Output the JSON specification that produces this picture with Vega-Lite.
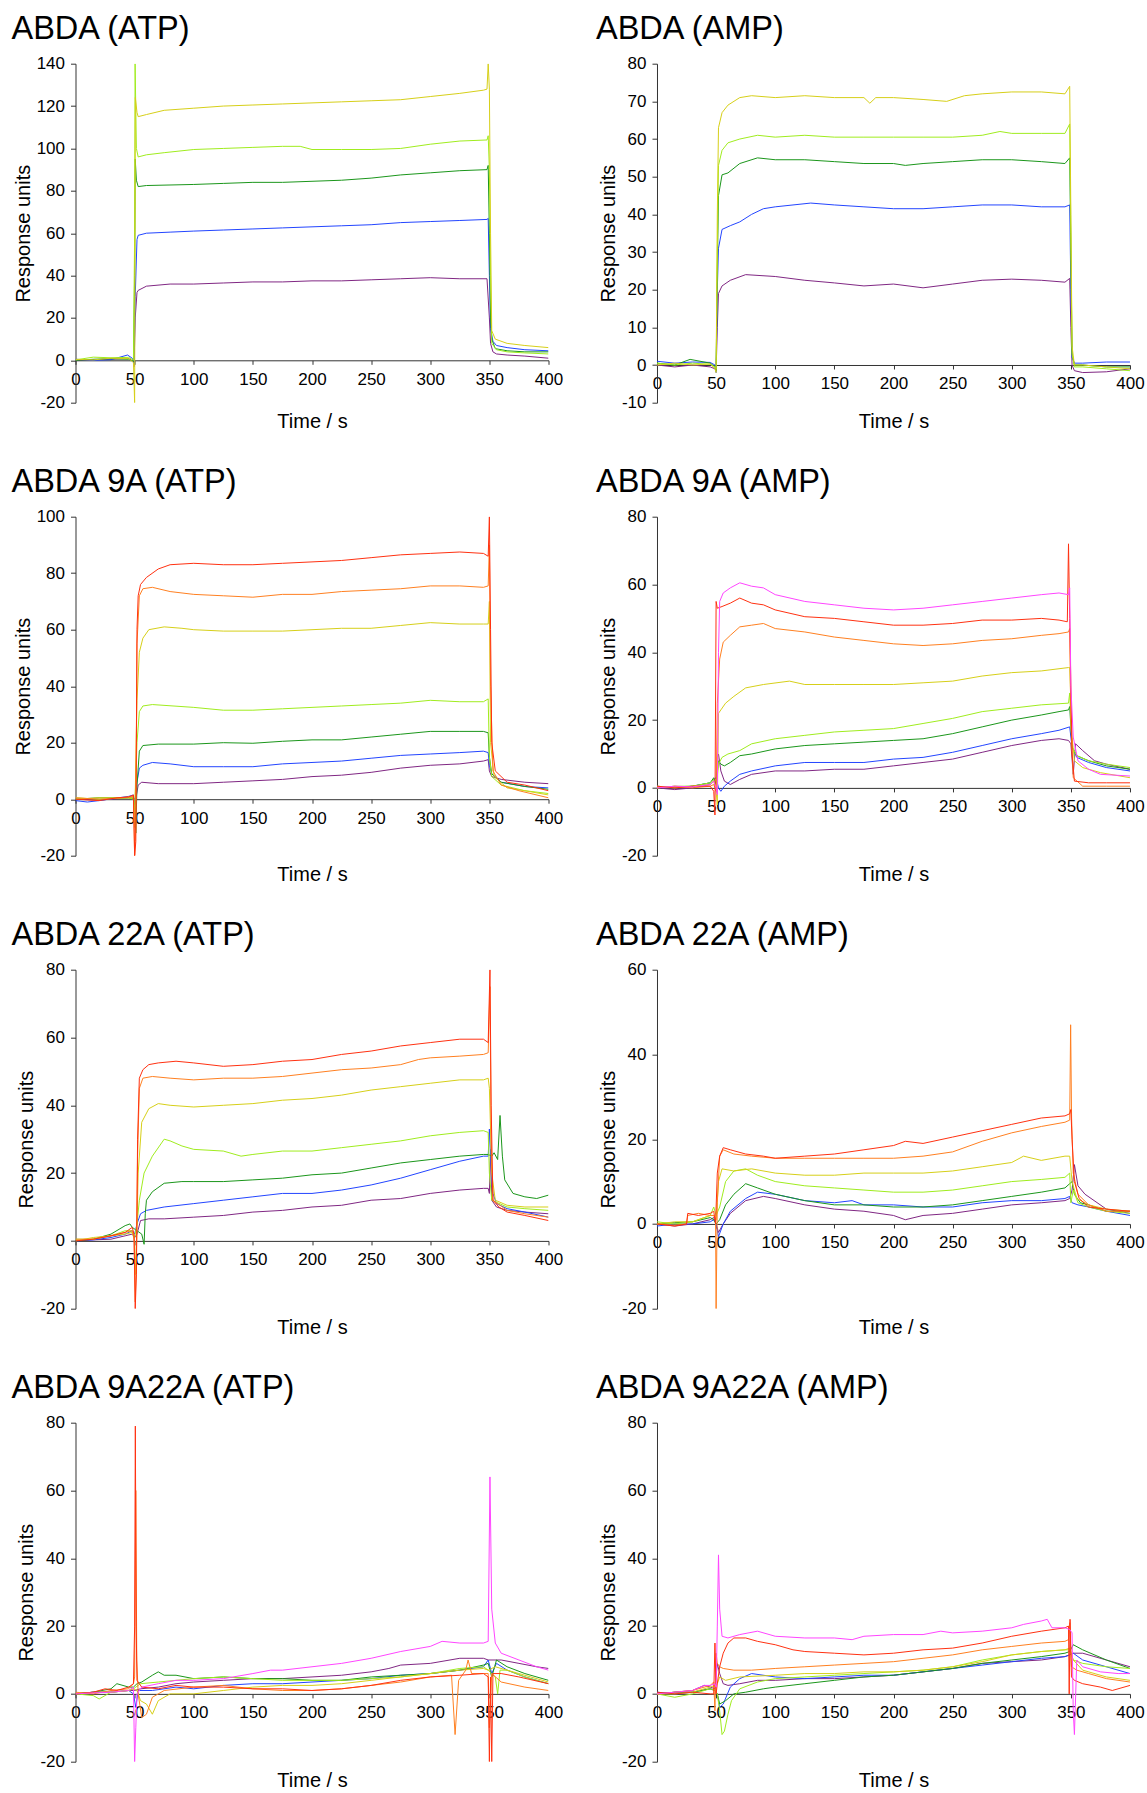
{
"$schema":"https://vega.github.io/schema/vega-lite/v6.json",
"background":"white",
"padding":{"left":11.5,"top":12.7,"right":5,"bottom":0},
"columns":2,
"spacing":{"row":34,"column":32.5},
"config":{
 "font":"Liberation Sans",
 "view":{"stroke":null},
 "title":{"fontSize":32.5,"fontWeight":"normal","anchor":"start","frame":"group","dx":-64,"color":"#000","baseline":"alphabetic","offset":9,"font":"Liberation Sans"},
 "axis":{"labelFont":"Liberation Sans","titleFont":"Liberation Sans","labelFontSize":17,"titleFontSize":20,"titleFontWeight":"normal","labelColor":"#000","titleColor":"#000","domainColor":"#333","tickColor":"#333","grid":false,"labelFlush":false,"labelOverlap":false,"labelExpr":"'' + datum.value"},
 "axisY":{"tickSize":5,"labelPadding":6,"titlePadding":3},
 "axisX":{"tickSize":4,"labelPadding":7,"titleBaseline":"middle"}
},
"datasets":{
"a":[
{"s":1,"t":0,"v":0},{"s":1,"t":15,"v":0.3},{"s":1,"t":30,"v":0.5},{"s":1,"t":45,"v":0.8},{"s":1,"t":49,"v":-0.5},{"s":1,"t":49.5,"v":-3},{"s":1,"t":50.5,"v":20},{"s":1,"t":52,"v":32},{"s":1,"t":53,"v":33},{"s":1,"t":60,"v":35},{"s":1,"t":80,"v":36},{"s":1,"t":100,"v":36},{"s":1,"t":125,"v":36.5},{"s":1,"t":150,"v":37},{"s":1,"t":175,"v":37},{"s":1,"t":200,"v":37.5},{"s":1,"t":225,"v":37.5},{"s":1,"t":250,"v":38},{"s":1,"t":275,"v":38.5},{"s":1,"t":300,"v":39},{"s":1,"t":325,"v":38.5},{"s":1,"t":348,"v":38.5},{"s":1,"t":350,"v":20},{"s":1,"t":351,"v":8},{"s":1,"t":353,"v":4},{"s":1,"t":356,"v":3},{"s":1,"t":365,"v":2.5},{"s":1,"t":380,"v":2},{"s":1,"t":400,"v":1},
{"s":2,"t":0,"v":0.5},{"s":2,"t":15,"v":0},{"s":2,"t":30,"v":0.3},{"s":2,"t":44,"v":2.5},{"s":2,"t":48,"v":1},{"s":2,"t":49.5,"v":-2},{"s":2,"t":50.5,"v":30},{"s":2,"t":52,"v":57},{"s":2,"t":53,"v":59},{"s":2,"t":60,"v":60},{"s":2,"t":80,"v":60.5},{"s":2,"t":100,"v":61},{"s":2,"t":125,"v":61.5},{"s":2,"t":150,"v":62},{"s":2,"t":175,"v":62.5},{"s":2,"t":200,"v":63},{"s":2,"t":225,"v":63.5},{"s":2,"t":250,"v":64},{"s":2,"t":275,"v":65},{"s":2,"t":300,"v":65.5},{"s":2,"t":325,"v":66},{"s":2,"t":348,"v":66.5},{"s":2,"t":349,"v":67},{"s":2,"t":350,"v":40},{"s":2,"t":351,"v":15},{"s":2,"t":353,"v":9},{"s":2,"t":356,"v":7},{"s":2,"t":365,"v":6},{"s":2,"t":380,"v":5},{"s":2,"t":400,"v":4.5},
{"s":3,"t":0,"v":0},{"s":3,"t":15,"v":0.5},{"s":3,"t":30,"v":0.8},{"s":3,"t":45,"v":0.5},{"s":3,"t":49,"v":-0.5},{"s":3,"t":50,"v":40},{"s":3,"t":50.5,"v":95},{"s":3,"t":51.5,"v":85},{"s":3,"t":53,"v":82},{"s":3,"t":60,"v":82.5},{"s":3,"t":100,"v":83},{"s":3,"t":125,"v":83.5},{"s":3,"t":150,"v":84},{"s":3,"t":175,"v":84},{"s":3,"t":200,"v":84.5},{"s":3,"t":225,"v":85},{"s":3,"t":250,"v":86},{"s":3,"t":275,"v":87.5},{"s":3,"t":300,"v":88.5},{"s":3,"t":325,"v":89.5},{"s":3,"t":348,"v":90},{"s":3,"t":349,"v":92},{"s":3,"t":350,"v":60},{"s":3,"t":351,"v":20},{"s":3,"t":352,"v":10},{"s":3,"t":355,"v":5.5},{"s":3,"t":365,"v":4.5},{"s":3,"t":380,"v":4},{"s":3,"t":400,"v":4},
{"s":4,"t":0,"v":0.2},{"s":4,"t":15,"v":1.5},{"s":4,"t":30,"v":1.2},{"s":4,"t":45,"v":1.4},{"s":4,"t":49,"v":0},{"s":4,"t":50,"v":60},{"s":4,"t":50.4,"v":140},{"s":4,"t":51.5,"v":100},{"s":4,"t":53,"v":96},{"s":4,"t":60,"v":97},{"s":4,"t":75,"v":98},{"s":4,"t":100,"v":99.5},{"s":4,"t":125,"v":100},{"s":4,"t":150,"v":100.5},{"s":4,"t":175,"v":101},{"s":4,"t":190,"v":101},{"s":4,"t":200,"v":99.5},{"s":4,"t":225,"v":99.5},{"s":4,"t":250,"v":99.5},{"s":4,"t":275,"v":100},{"s":4,"t":300,"v":102},{"s":4,"t":325,"v":103.5},{"s":4,"t":348,"v":104},{"s":4,"t":349,"v":106},{"s":4,"t":350,"v":90},{"s":4,"t":351,"v":40},{"s":4,"t":352,"v":8},{"s":4,"t":356,"v":5},{"s":4,"t":365,"v":4},{"s":4,"t":380,"v":3.5},{"s":4,"t":400,"v":3},
{"s":5,"t":0,"v":0.5},{"s":5,"t":15,"v":0.2},{"s":5,"t":30,"v":1},{"s":5,"t":45,"v":0.8},{"s":5,"t":49,"v":-1},{"s":5,"t":50,"v":-20},{"s":5,"t":50.6,"v":124},{"s":5,"t":52,"v":117},{"s":5,"t":53,"v":115},{"s":5,"t":60,"v":116},{"s":5,"t":75,"v":118},{"s":5,"t":100,"v":119},{"s":5,"t":125,"v":120},{"s":5,"t":150,"v":120.5},{"s":5,"t":175,"v":121},{"s":5,"t":200,"v":121.5},{"s":5,"t":225,"v":122},{"s":5,"t":250,"v":122.5},{"s":5,"t":275,"v":123},{"s":5,"t":300,"v":124.5},{"s":5,"t":325,"v":126},{"s":5,"t":345,"v":127.5},{"s":5,"t":348,"v":128},{"s":5,"t":349,"v":140},{"s":5,"t":350,"v":128},{"s":5,"t":351,"v":60},{"s":5,"t":352,"v":14},{"s":5,"t":355,"v":10},{"s":5,"t":365,"v":8},{"s":5,"t":380,"v":7},{"s":5,"t":400,"v":6}
],
"b":[
{"s":1,"t":0,"v":0},{"s":1,"t":15,"v":-0.5},{"s":1,"t":30,"v":0},{"s":1,"t":45,"v":-0.5},{"s":1,"t":49,"v":-1},{"s":1,"t":50,"v":-1.5},{"s":1,"t":51,"v":10},{"s":1,"t":52,"v":19},{"s":1,"t":55,"v":21},{"s":1,"t":62,"v":22.5},{"s":1,"t":75,"v":24},{"s":1,"t":100,"v":23.5},{"s":1,"t":125,"v":22.5},{"s":1,"t":150,"v":21.8},{"s":1,"t":175,"v":21},{"s":1,"t":200,"v":21.5},{"s":1,"t":225,"v":20.5},{"s":1,"t":250,"v":21.5},{"s":1,"t":275,"v":22.5},{"s":1,"t":300,"v":22.8},{"s":1,"t":325,"v":22.5},{"s":1,"t":345,"v":22},{"s":1,"t":349,"v":23},{"s":1,"t":350,"v":10},{"s":1,"t":351,"v":0},{"s":1,"t":353,"v":-1.5},{"s":1,"t":360,"v":-2},{"s":1,"t":380,"v":-1.8},{"s":1,"t":400,"v":-1},
{"s":2,"t":0,"v":1},{"s":2,"t":15,"v":0.5},{"s":2,"t":30,"v":0.8},{"s":2,"t":45,"v":0.7},{"s":2,"t":49,"v":0},{"s":2,"t":50,"v":-2},{"s":2,"t":51,"v":20},{"s":2,"t":52,"v":31},{"s":2,"t":55,"v":36},{"s":2,"t":62,"v":37},{"s":2,"t":70,"v":38},{"s":2,"t":80,"v":40},{"s":2,"t":90,"v":41.5},{"s":2,"t":100,"v":42},{"s":2,"t":130,"v":43},{"s":2,"t":150,"v":42.5},{"s":2,"t":175,"v":42},{"s":2,"t":200,"v":41.5},{"s":2,"t":225,"v":41.5},{"s":2,"t":250,"v":42},{"s":2,"t":275,"v":42.5},{"s":2,"t":300,"v":42.5},{"s":2,"t":325,"v":42},{"s":2,"t":345,"v":42},{"s":2,"t":349,"v":42.5},{"s":2,"t":350,"v":20},{"s":2,"t":351,"v":2},{"s":2,"t":353,"v":0.5},{"s":2,"t":360,"v":0.5},{"s":2,"t":380,"v":0.8},{"s":2,"t":400,"v":0.8},
{"s":3,"t":0,"v":0.5},{"s":3,"t":15,"v":0},{"s":3,"t":28,"v":1.5},{"s":3,"t":45,"v":0.5},{"s":3,"t":49,"v":-0.5},{"s":3,"t":50,"v":-1.5},{"s":3,"t":51,"v":25},{"s":3,"t":52,"v":45},{"s":3,"t":55,"v":50.5},{"s":3,"t":60,"v":51},{"s":3,"t":70,"v":53.5},{"s":3,"t":85,"v":55},{"s":3,"t":100,"v":54.5},{"s":3,"t":125,"v":54.5},{"s":3,"t":150,"v":54},{"s":3,"t":175,"v":53.5},{"s":3,"t":200,"v":53.5},{"s":3,"t":210,"v":53},{"s":3,"t":225,"v":53.5},{"s":3,"t":250,"v":54},{"s":3,"t":275,"v":54.5},{"s":3,"t":300,"v":54.5},{"s":3,"t":325,"v":54},{"s":3,"t":345,"v":53.5},{"s":3,"t":349,"v":55},{"s":3,"t":350,"v":30},{"s":3,"t":351,"v":3},{"s":3,"t":353,"v":0},{"s":3,"t":360,"v":0},{"s":3,"t":380,"v":-0.5},{"s":3,"t":400,"v":-0.5},
{"s":4,"t":0,"v":0.5},{"s":4,"t":15,"v":0},{"s":4,"t":30,"v":0.5},{"s":4,"t":45,"v":0.2},{"s":4,"t":49,"v":-0.5},{"s":4,"t":50,"v":-1},{"s":4,"t":51,"v":30},{"s":4,"t":52,"v":53},{"s":4,"t":55,"v":57},{"s":4,"t":60,"v":59},{"s":4,"t":70,"v":60},{"s":4,"t":85,"v":61},{"s":4,"t":100,"v":60.5},{"s":4,"t":125,"v":61},{"s":4,"t":150,"v":60.5},{"s":4,"t":175,"v":60.5},{"s":4,"t":200,"v":60.5},{"s":4,"t":225,"v":60.5},{"s":4,"t":250,"v":60.5},{"s":4,"t":275,"v":61},{"s":4,"t":290,"v":62},{"s":4,"t":300,"v":61.5},{"s":4,"t":325,"v":61.5},{"s":4,"t":345,"v":61.5},{"s":4,"t":349,"v":64},{"s":4,"t":350,"v":35},{"s":4,"t":351,"v":3},{"s":4,"t":353,"v":-0.5},{"s":4,"t":360,"v":-0.5},{"s":4,"t":380,"v":-1},{"s":4,"t":400,"v":-1.5},
{"s":5,"t":0,"v":0},{"s":5,"t":15,"v":0.5},{"s":5,"t":30,"v":0},{"s":5,"t":45,"v":0.3},{"s":5,"t":49,"v":-1},{"s":5,"t":50,"v":-2},{"s":5,"t":51,"v":40},{"s":5,"t":52,"v":63},{"s":5,"t":55,"v":67},{"s":5,"t":60,"v":69},{"s":5,"t":70,"v":71},{"s":5,"t":80,"v":71.5},{"s":5,"t":100,"v":71},{"s":5,"t":125,"v":71.5},{"s":5,"t":150,"v":71},{"s":5,"t":175,"v":71},{"s":5,"t":180,"v":69.5},{"s":5,"t":185,"v":71},{"s":5,"t":200,"v":71},{"s":5,"t":225,"v":70.5},{"s":5,"t":245,"v":70},{"s":5,"t":260,"v":71.5},{"s":5,"t":275,"v":72},{"s":5,"t":300,"v":72.5},{"s":5,"t":325,"v":72.5},{"s":5,"t":345,"v":72},{"s":5,"t":349,"v":74},{"s":5,"t":350,"v":40},{"s":5,"t":351,"v":5},{"s":5,"t":353,"v":0},{"s":5,"t":360,"v":0},{"s":5,"t":380,"v":-0.5},{"s":5,"t":400,"v":-1}
],
"c":[
{"s":1,"t":0,"v":0},{"s":1,"t":20,"v":-0.3},{"s":1,"t":45,"v":0.5},{"s":1,"t":49,"v":0.5},{"s":1,"t":51,"v":0},{"s":1,"t":53,"v":5},{"s":1,"t":56,"v":6},{"s":1,"t":70,"v":5.5},{"s":1,"t":100,"v":5.5},{"s":1,"t":125,"v":6},{"s":1,"t":150,"v":6.5},{"s":1,"t":175,"v":7},{"s":1,"t":200,"v":8},{"s":1,"t":225,"v":8.5},{"s":1,"t":250,"v":9.5},{"s":1,"t":275,"v":11},{"s":1,"t":300,"v":12},{"s":1,"t":325,"v":12.5},{"s":1,"t":345,"v":13.5},{"s":1,"t":349,"v":14},{"s":1,"t":350,"v":10},{"s":1,"t":352,"v":8},{"s":1,"t":360,"v":7},{"s":1,"t":380,"v":6},{"s":1,"t":400,"v":5.5},
{"s":2,"t":0,"v":-0.5},{"s":2,"t":10,"v":-1},{"s":2,"t":20,"v":-0.5},{"s":2,"t":45,"v":1},{"s":2,"t":49,"v":1.5},{"s":2,"t":50,"v":-2},{"s":2,"t":52,"v":6},{"s":2,"t":54,"v":11},{"s":2,"t":57,"v":12},{"s":2,"t":65,"v":13},{"s":2,"t":80,"v":12.5},{"s":2,"t":100,"v":11.5},{"s":2,"t":125,"v":11.5},{"s":2,"t":150,"v":11.5},{"s":2,"t":175,"v":12.5},{"s":2,"t":200,"v":13},{"s":2,"t":225,"v":13.5},{"s":2,"t":250,"v":14.5},{"s":2,"t":275,"v":15.5},{"s":2,"t":300,"v":16},{"s":2,"t":325,"v":16.5},{"s":2,"t":345,"v":17},{"s":2,"t":349,"v":16.5},{"s":2,"t":350,"v":12},{"s":2,"t":352,"v":9},{"s":2,"t":360,"v":6},{"s":2,"t":380,"v":4.5},{"s":2,"t":400,"v":4},
{"s":3,"t":0,"v":0},{"s":3,"t":20,"v":0.5},{"s":3,"t":45,"v":0.5},{"s":3,"t":49,"v":0.2},{"s":3,"t":50,"v":-2},{"s":3,"t":51,"v":-12},{"s":3,"t":52,"v":5},{"s":3,"t":54,"v":17},{"s":3,"t":57,"v":19},{"s":3,"t":70,"v":19.5},{"s":3,"t":100,"v":19.5},{"s":3,"t":125,"v":20},{"s":3,"t":150,"v":19.8},{"s":3,"t":175,"v":20.5},{"s":3,"t":200,"v":21},{"s":3,"t":225,"v":21},{"s":3,"t":250,"v":22},{"s":3,"t":275,"v":23},{"s":3,"t":300,"v":24},{"s":3,"t":325,"v":24},{"s":3,"t":345,"v":24},{"s":3,"t":349,"v":23.5},{"s":3,"t":350,"v":15},{"s":3,"t":352,"v":9},{"s":3,"t":360,"v":6},{"s":3,"t":380,"v":4.5},{"s":3,"t":400,"v":3.5},
{"s":4,"t":0,"v":0.5},{"s":4,"t":20,"v":0},{"s":4,"t":45,"v":0.5},{"s":4,"t":49,"v":0},{"s":4,"t":50,"v":-5},{"s":4,"t":52,"v":20},{"s":4,"t":54,"v":31},{"s":4,"t":57,"v":33},{"s":4,"t":65,"v":33.5},{"s":4,"t":100,"v":32.5},{"s":4,"t":125,"v":31.5},{"s":4,"t":150,"v":31.5},{"s":4,"t":175,"v":32},{"s":4,"t":200,"v":32.5},{"s":4,"t":225,"v":33},{"s":4,"t":250,"v":33.5},{"s":4,"t":275,"v":34},{"s":4,"t":300,"v":35},{"s":4,"t":325,"v":34.5},{"s":4,"t":345,"v":34.5},{"s":4,"t":349,"v":35.5},{"s":4,"t":350,"v":15},{"s":4,"t":352,"v":8},{"s":4,"t":360,"v":5},{"s":4,"t":380,"v":3},{"s":4,"t":400,"v":2},
{"s":5,"t":0,"v":0},{"s":5,"t":20,"v":0.5},{"s":5,"t":45,"v":0.5},{"s":5,"t":49,"v":0.5},{"s":5,"t":50,"v":-10},{"s":5,"t":52,"v":35},{"s":5,"t":54,"v":52},{"s":5,"t":57,"v":57},{"s":5,"t":62,"v":60},{"s":5,"t":75,"v":61},{"s":5,"t":90,"v":60.5},{"s":5,"t":100,"v":60},{"s":5,"t":125,"v":59.5},{"s":5,"t":150,"v":59.5},{"s":5,"t":175,"v":59.5},{"s":5,"t":200,"v":60},{"s":5,"t":225,"v":60.5},{"s":5,"t":250,"v":60.5},{"s":5,"t":275,"v":61.5},{"s":5,"t":300,"v":62.5},{"s":5,"t":325,"v":62},{"s":5,"t":345,"v":62},{"s":5,"t":349,"v":62},{"s":5,"t":350,"v":70},{"s":5,"t":351,"v":20},{"s":5,"t":354,"v":8},{"s":5,"t":365,"v":4},{"s":5,"t":380,"v":3},{"s":5,"t":400,"v":1.5},
{"s":6,"t":0,"v":0.5},{"s":6,"t":20,"v":0},{"s":6,"t":35,"v":0.3},{"s":6,"t":45,"v":0.8},{"s":6,"t":49,"v":1},{"s":6,"t":50,"v":-20},{"s":6,"t":51,"v":-10},{"s":6,"t":52,"v":55},{"s":6,"t":54,"v":72},{"s":6,"t":57,"v":74.5},{"s":6,"t":65,"v":75},{"s":6,"t":80,"v":73.5},{"s":6,"t":100,"v":72.5},{"s":6,"t":125,"v":72},{"s":6,"t":150,"v":71.5},{"s":6,"t":175,"v":72.5},{"s":6,"t":200,"v":72.5},{"s":6,"t":225,"v":73.5},{"s":6,"t":250,"v":74},{"s":6,"t":275,"v":74.5},{"s":6,"t":300,"v":75.5},{"s":6,"t":325,"v":75.5},{"s":6,"t":345,"v":75},{"s":6,"t":349,"v":75.5},{"s":6,"t":350,"v":90},{"s":6,"t":351,"v":40},{"s":6,"t":353,"v":10},{"s":6,"t":360,"v":5},{"s":6,"t":375,"v":3},{"s":6,"t":400,"v":0.5},
{"s":7,"t":0,"v":0},{"s":7,"t":20,"v":-0.5},{"s":7,"t":35,"v":0.5},{"s":7,"t":45,"v":0.8},{"s":7,"t":49,"v":1.5},{"s":7,"t":50,"v":-20},{"s":7,"t":51,"v":-15},{"s":7,"t":52,"v":60},{"s":7,"t":53,"v":72},{"s":7,"t":55,"v":76},{"s":7,"t":60,"v":78.5},{"s":7,"t":70,"v":81.5},{"s":7,"t":80,"v":83},{"s":7,"t":100,"v":83.5},{"s":7,"t":125,"v":83},{"s":7,"t":150,"v":83},{"s":7,"t":175,"v":83.5},{"s":7,"t":200,"v":84},{"s":7,"t":225,"v":84.5},{"s":7,"t":250,"v":85.5},{"s":7,"t":275,"v":86.5},{"s":7,"t":300,"v":87},{"s":7,"t":325,"v":87.5},{"s":7,"t":345,"v":87},{"s":7,"t":349,"v":86},{"s":7,"t":350,"v":100},{"s":7,"t":351,"v":60},{"s":7,"t":352,"v":20},{"s":7,"t":355,"v":10},{"s":7,"t":365,"v":6},{"s":7,"t":380,"v":5},{"s":7,"t":400,"v":3}
],
"d":[
{"s":1,"t":0,"v":0},{"s":1,"t":15,"v":-0.5},{"s":1,"t":30,"v":0},{"s":1,"t":45,"v":1},{"s":1,"t":48,"v":2},{"s":1,"t":50,"v":1},{"s":1,"t":51,"v":9},{"s":1,"t":52,"v":10},{"s":1,"t":54,"v":5},{"s":1,"t":57,"v":2},{"s":1,"t":62,"v":1},{"s":1,"t":70,"v":2.5},{"s":1,"t":80,"v":4},{"s":1,"t":100,"v":5},{"s":1,"t":125,"v":5},{"s":1,"t":150,"v":5.5},{"s":1,"t":175,"v":5.5},{"s":1,"t":200,"v":6.5},{"s":1,"t":225,"v":7.5},{"s":1,"t":250,"v":8.5},{"s":1,"t":275,"v":10.5},{"s":1,"t":300,"v":12.5},{"s":1,"t":325,"v":14},{"s":1,"t":340,"v":14.5},{"s":1,"t":348,"v":14},{"s":1,"t":350,"v":13},{"s":1,"t":352,"v":4},{"s":1,"t":354,"v":13},{"s":1,"t":360,"v":11},{"s":1,"t":370,"v":8},{"s":1,"t":380,"v":7},{"s":1,"t":400,"v":5.5},
{"s":2,"t":0,"v":0.5},{"s":2,"t":15,"v":0},{"s":2,"t":30,"v":0.5},{"s":2,"t":45,"v":1.5},{"s":2,"t":48,"v":2.5},{"s":2,"t":50,"v":3},{"s":2,"t":52,"v":0},{"s":2,"t":54,"v":-1},{"s":2,"t":57,"v":0.5},{"s":2,"t":62,"v":2},{"s":2,"t":70,"v":4},{"s":2,"t":80,"v":5},{"s":2,"t":100,"v":6.5},{"s":2,"t":125,"v":7.5},{"s":2,"t":150,"v":7.5},{"s":2,"t":175,"v":7.5},{"s":2,"t":200,"v":8.5},{"s":2,"t":225,"v":9},{"s":2,"t":250,"v":10.5},{"s":2,"t":275,"v":12.5},{"s":2,"t":300,"v":14.5},{"s":2,"t":325,"v":16},{"s":2,"t":340,"v":17},{"s":2,"t":349,"v":18},{"s":2,"t":351,"v":12},{"s":2,"t":355,"v":9},{"s":2,"t":365,"v":7.5},{"s":2,"t":380,"v":6},{"s":2,"t":400,"v":5},
{"s":3,"t":0,"v":0},{"s":3,"t":15,"v":0.3},{"s":3,"t":30,"v":0.5},{"s":3,"t":45,"v":1.5},{"s":3,"t":48,"v":3},{"s":3,"t":50,"v":1},{"s":3,"t":52,"v":8},{"s":3,"t":54,"v":7},{"s":3,"t":57,"v":6.5},{"s":3,"t":62,"v":7.5},{"s":3,"t":70,"v":9.5},{"s":3,"t":80,"v":10},{"s":3,"t":100,"v":11.5},{"s":3,"t":125,"v":12.5},{"s":3,"t":150,"v":13},{"s":3,"t":175,"v":13.5},{"s":3,"t":200,"v":14},{"s":3,"t":225,"v":14.5},{"s":3,"t":250,"v":16},{"s":3,"t":275,"v":18},{"s":3,"t":300,"v":20},{"s":3,"t":325,"v":21.5},{"s":3,"t":340,"v":22.5},{"s":3,"t":348,"v":23},{"s":3,"t":349,"v":24},{"s":3,"t":351,"v":12},{"s":3,"t":355,"v":9.5},{"s":3,"t":365,"v":8},{"s":3,"t":380,"v":6.5},{"s":3,"t":400,"v":5.5},
{"s":4,"t":0,"v":0},{"s":4,"t":15,"v":0.5},{"s":4,"t":30,"v":0.5},{"s":4,"t":45,"v":1.5},{"s":4,"t":48,"v":2.5},{"s":4,"t":50,"v":0},{"s":4,"t":52,"v":7},{"s":4,"t":55,"v":9},{"s":4,"t":60,"v":10},{"s":4,"t":70,"v":11},{"s":4,"t":80,"v":13},{"s":4,"t":100,"v":14.5},{"s":4,"t":125,"v":15.5},{"s":4,"t":150,"v":16.5},{"s":4,"t":175,"v":17},{"s":4,"t":200,"v":17.5},{"s":4,"t":225,"v":19},{"s":4,"t":250,"v":20.5},{"s":4,"t":275,"v":22.5},{"s":4,"t":300,"v":23.5},{"s":4,"t":325,"v":24.5},{"s":4,"t":348,"v":25},{"s":4,"t":349,"v":28},{"s":4,"t":351,"v":12},{"s":4,"t":355,"v":9.5},{"s":4,"t":365,"v":8},{"s":4,"t":380,"v":7},{"s":4,"t":400,"v":6},
{"s":5,"t":0,"v":0.5},{"s":5,"t":15,"v":0},{"s":5,"t":30,"v":0.5},{"s":5,"t":45,"v":1},{"s":5,"t":48,"v":2},{"s":5,"t":50,"v":-1},{"s":5,"t":51,"v":-5},{"s":5,"t":52,"v":22},{"s":5,"t":54,"v":23},{"s":5,"t":58,"v":25},{"s":5,"t":65,"v":27},{"s":5,"t":75,"v":29.5},{"s":5,"t":90,"v":30.5},{"s":5,"t":112,"v":31.5},{"s":5,"t":125,"v":30.5},{"s":5,"t":150,"v":30.5},{"s":5,"t":175,"v":30.5},{"s":5,"t":200,"v":30.5},{"s":5,"t":225,"v":31},{"s":5,"t":250,"v":31.5},{"s":5,"t":275,"v":33},{"s":5,"t":300,"v":34},{"s":5,"t":325,"v":34.5},{"s":5,"t":348,"v":35.5},{"s":5,"t":349,"v":35.5},{"s":5,"t":351,"v":15},{"s":5,"t":353,"v":8},{"s":5,"t":360,"v":6},{"s":5,"t":375,"v":4.5},{"s":5,"t":400,"v":3},
{"s":6,"t":0,"v":0},{"s":6,"t":15,"v":0.5},{"s":6,"t":30,"v":0},{"s":6,"t":45,"v":0.5},{"s":6,"t":48,"v":1},{"s":6,"t":50,"v":-1},{"s":6,"t":51,"v":25},{"s":6,"t":53,"v":38},{"s":6,"t":56,"v":43},{"s":6,"t":62,"v":45},{"s":6,"t":70,"v":47.5},{"s":6,"t":80,"v":48},{"s":6,"t":90,"v":48.5},{"s":6,"t":100,"v":47},{"s":6,"t":125,"v":46},{"s":6,"t":150,"v":44.5},{"s":6,"t":175,"v":43.5},{"s":6,"t":200,"v":42.5},{"s":6,"t":225,"v":42},{"s":6,"t":250,"v":42.5},{"s":6,"t":275,"v":43.5},{"s":6,"t":300,"v":44},{"s":6,"t":325,"v":45},{"s":6,"t":340,"v":45.5},{"s":6,"t":348,"v":46},{"s":6,"t":349,"v":47},{"s":6,"t":350,"v":20},{"s":6,"t":352,"v":3},{"s":6,"t":360,"v":0.5},{"s":6,"t":380,"v":0.5},{"s":6,"t":400,"v":0.5},
{"s":7,"t":0,"v":0.5},{"s":7,"t":15,"v":0},{"s":7,"t":30,"v":0.5},{"s":7,"t":45,"v":0.5},{"s":7,"t":48,"v":-1},{"s":7,"t":49,"v":-8},{"s":7,"t":50,"v":55},{"s":7,"t":51,"v":53},{"s":7,"t":55,"v":53.5},{"s":7,"t":62,"v":54.5},{"s":7,"t":70,"v":56},{"s":7,"t":80,"v":54.5},{"s":7,"t":90,"v":54},{"s":7,"t":100,"v":52.5},{"s":7,"t":125,"v":50.5},{"s":7,"t":150,"v":50},{"s":7,"t":175,"v":49},{"s":7,"t":200,"v":48},{"s":7,"t":225,"v":48},{"s":7,"t":250,"v":48.5},{"s":7,"t":275,"v":49.5},{"s":7,"t":300,"v":49.5},{"s":7,"t":325,"v":50},{"s":7,"t":340,"v":49.5},{"s":7,"t":347,"v":49},{"s":7,"t":348,"v":72},{"s":7,"t":349,"v":50},{"s":7,"t":351,"v":10},{"s":7,"t":353,"v":2},{"s":7,"t":365,"v":1.5},{"s":7,"t":380,"v":1.5},{"s":7,"t":400,"v":1.5},
{"s":8,"t":0,"v":0},{"s":8,"t":15,"v":0.5},{"s":8,"t":30,"v":0.3},{"s":8,"t":45,"v":1},{"s":8,"t":48,"v":2},{"s":8,"t":50,"v":0},{"s":8,"t":51,"v":-2},{"s":8,"t":52,"v":40},{"s":8,"t":53,"v":55},{"s":8,"t":56,"v":57.5},{"s":8,"t":62,"v":59},{"s":8,"t":70,"v":60.5},{"s":8,"t":80,"v":59.5},{"s":8,"t":90,"v":59},{"s":8,"t":100,"v":57},{"s":8,"t":125,"v":55},{"s":8,"t":150,"v":54},{"s":8,"t":175,"v":53},{"s":8,"t":200,"v":52.5},{"s":8,"t":225,"v":53},{"s":8,"t":250,"v":54},{"s":8,"t":275,"v":55},{"s":8,"t":300,"v":56},{"s":8,"t":325,"v":57},{"s":8,"t":340,"v":57.5},{"s":8,"t":348,"v":57},{"s":8,"t":349,"v":59},{"s":8,"t":350,"v":30},{"s":8,"t":352,"v":15},{"s":8,"t":356,"v":8},{"s":8,"t":365,"v":5.5},{"s":8,"t":375,"v":4},{"s":8,"t":400,"v":3.5}
],
"e":[
{"s":1,"t":0,"v":0},{"s":1,"t":15,"v":0.3},{"s":1,"t":30,"v":0.5},{"s":1,"t":42,"v":1.5},{"s":1,"t":48,"v":2},{"s":1,"t":50,"v":1},{"s":1,"t":52,"v":2},{"s":1,"t":55,"v":6},{"s":1,"t":62,"v":6.5},{"s":1,"t":75,"v":6.5},{"s":1,"t":100,"v":7},{"s":1,"t":125,"v":7.5},{"s":1,"t":150,"v":8.5},{"s":1,"t":175,"v":9},{"s":1,"t":200,"v":10},{"s":1,"t":225,"v":10.5},{"s":1,"t":250,"v":12},{"s":1,"t":275,"v":12.5},{"s":1,"t":300,"v":14},{"s":1,"t":325,"v":15},{"s":1,"t":345,"v":15.5},{"s":1,"t":349,"v":15.5},{"s":1,"t":350,"v":14},{"s":1,"t":351,"v":27},{"s":1,"t":352,"v":12},{"s":1,"t":356,"v":10},{"s":1,"t":365,"v":9},{"s":1,"t":380,"v":8.5},{"s":1,"t":400,"v":8},
{"s":2,"t":0,"v":0},{"s":2,"t":15,"v":0.3},{"s":2,"t":30,"v":1},{"s":2,"t":42,"v":2},{"s":2,"t":48,"v":3},{"s":2,"t":50,"v":2},{"s":2,"t":52,"v":5},{"s":2,"t":55,"v":8},{"s":2,"t":60,"v":9},{"s":2,"t":75,"v":10},{"s":2,"t":100,"v":11},{"s":2,"t":125,"v":12},{"s":2,"t":150,"v":13},{"s":2,"t":175,"v":14},{"s":2,"t":200,"v":14},{"s":2,"t":225,"v":15},{"s":2,"t":250,"v":16.5},{"s":2,"t":275,"v":18.5},{"s":2,"t":300,"v":21},{"s":2,"t":325,"v":23.5},{"s":2,"t":345,"v":25},{"s":2,"t":349,"v":25},{"s":2,"t":350,"v":33},{"s":2,"t":351,"v":25},{"s":2,"t":353,"v":14},{"s":2,"t":356,"v":11},{"s":2,"t":365,"v":9.5},{"s":2,"t":380,"v":8.5},{"s":2,"t":400,"v":7},
{"s":3,"t":0,"v":0},{"s":3,"t":15,"v":0.5},{"s":3,"t":30,"v":2},{"s":3,"t":42,"v":4.5},{"s":3,"t":46,"v":5},{"s":3,"t":48,"v":4},{"s":3,"t":52,"v":3},{"s":3,"t":56,"v":2},{"s":3,"t":58,"v":-1},{"s":3,"t":59,"v":8},{"s":3,"t":60,"v":12},{"s":3,"t":65,"v":14.5},{"s":3,"t":75,"v":17},{"s":3,"t":90,"v":17.5},{"s":3,"t":100,"v":17.5},{"s":3,"t":125,"v":17.5},{"s":3,"t":150,"v":18},{"s":3,"t":175,"v":18.5},{"s":3,"t":200,"v":19.5},{"s":3,"t":225,"v":20},{"s":3,"t":250,"v":21.5},{"s":3,"t":275,"v":23},{"s":3,"t":300,"v":24},{"s":3,"t":325,"v":25},{"s":3,"t":345,"v":25.5},{"s":3,"t":349,"v":25.5},{"s":3,"t":352,"v":25},{"s":3,"t":354,"v":26},{"s":3,"t":357,"v":24},{"s":3,"t":359,"v":37},{"s":3,"t":361,"v":25},{"s":3,"t":363,"v":18},{"s":3,"t":370,"v":14},{"s":3,"t":380,"v":13},{"s":3,"t":390,"v":12.5},{"s":3,"t":400,"v":13.5},
{"s":4,"t":0,"v":0.5},{"s":4,"t":15,"v":0.5},{"s":4,"t":30,"v":1.5},{"s":4,"t":42,"v":3},{"s":4,"t":48,"v":3},{"s":4,"t":50,"v":1},{"s":4,"t":52,"v":5},{"s":4,"t":54,"v":12},{"s":4,"t":58,"v":20},{"s":4,"t":65,"v":25},{"s":4,"t":75,"v":30},{"s":4,"t":80,"v":29.5},{"s":4,"t":90,"v":28},{"s":4,"t":100,"v":27},{"s":4,"t":125,"v":26.5},{"s":4,"t":140,"v":25},{"s":4,"t":150,"v":25.5},{"s":4,"t":175,"v":26.5},{"s":4,"t":200,"v":26.5},{"s":4,"t":225,"v":27.5},{"s":4,"t":250,"v":28.5},{"s":4,"t":275,"v":29.5},{"s":4,"t":300,"v":31},{"s":4,"t":325,"v":32},{"s":4,"t":345,"v":32.5},{"s":4,"t":349,"v":32},{"s":4,"t":350,"v":20},{"s":4,"t":352,"v":12},{"s":4,"t":365,"v":10},{"s":4,"t":380,"v":9.5},{"s":4,"t":400,"v":9},
{"s":5,"t":0,"v":0},{"s":5,"t":15,"v":1},{"s":5,"t":30,"v":1.5},{"s":5,"t":42,"v":2},{"s":5,"t":48,"v":2.5},{"s":5,"t":50,"v":0},{"s":5,"t":51,"v":-10},{"s":5,"t":53,"v":20},{"s":5,"t":56,"v":35},{"s":5,"t":62,"v":39},{"s":5,"t":70,"v":40.5},{"s":5,"t":80,"v":40},{"s":5,"t":100,"v":39.5},{"s":5,"t":125,"v":40},{"s":5,"t":150,"v":40.5},{"s":5,"t":175,"v":41.5},{"s":5,"t":200,"v":42},{"s":5,"t":225,"v":43},{"s":5,"t":250,"v":44.5},{"s":5,"t":275,"v":45.5},{"s":5,"t":300,"v":46.5},{"s":5,"t":325,"v":47.5},{"s":5,"t":345,"v":47.5},{"s":5,"t":349,"v":48},{"s":5,"t":350,"v":45},{"s":5,"t":352,"v":20},{"s":5,"t":355,"v":12},{"s":5,"t":365,"v":10.5},{"s":5,"t":380,"v":10},{"s":5,"t":400,"v":10},
{"s":6,"t":0,"v":0.5},{"s":6,"t":15,"v":0.5},{"s":6,"t":30,"v":1.5},{"s":6,"t":42,"v":2.5},{"s":6,"t":48,"v":3},{"s":6,"t":49.5,"v":1},{"s":6,"t":50.5,"v":-18},{"s":6,"t":51.5,"v":-5},{"s":6,"t":52.5,"v":25},{"s":6,"t":54,"v":45},{"s":6,"t":57,"v":48},{"s":6,"t":65,"v":48.5},{"s":6,"t":80,"v":48},{"s":6,"t":100,"v":47.5},{"s":6,"t":125,"v":48},{"s":6,"t":150,"v":48},{"s":6,"t":175,"v":48.5},{"s":6,"t":200,"v":49.5},{"s":6,"t":225,"v":50.5},{"s":6,"t":250,"v":51},{"s":6,"t":275,"v":52},{"s":6,"t":290,"v":53.5},{"s":6,"t":300,"v":54},{"s":6,"t":325,"v":54.5},{"s":6,"t":345,"v":55},{"s":6,"t":349,"v":55.5},{"s":6,"t":350.5,"v":75},{"s":6,"t":351.5,"v":30},{"s":6,"t":353,"v":12},{"s":6,"t":365,"v":9},{"s":6,"t":380,"v":8},{"s":6,"t":400,"v":7},
{"s":7,"t":0,"v":0},{"s":7,"t":15,"v":0.5},{"s":7,"t":30,"v":1.5},{"s":7,"t":42,"v":2.5},{"s":7,"t":48,"v":4},{"s":7,"t":49.5,"v":2},{"s":7,"t":50.5,"v":-20},{"s":7,"t":51.5,"v":-10},{"s":7,"t":52.5,"v":30},{"s":7,"t":54,"v":48},{"s":7,"t":57,"v":50.5},{"s":7,"t":62,"v":52},{"s":7,"t":70,"v":52.5},{"s":7,"t":85,"v":53},{"s":7,"t":100,"v":52.5},{"s":7,"t":125,"v":51.5},{"s":7,"t":150,"v":52},{"s":7,"t":175,"v":53},{"s":7,"t":200,"v":53.5},{"s":7,"t":225,"v":55},{"s":7,"t":250,"v":56},{"s":7,"t":275,"v":57.5},{"s":7,"t":300,"v":58.5},{"s":7,"t":325,"v":59.5},{"s":7,"t":345,"v":59.5},{"s":7,"t":349,"v":58.5},{"s":7,"t":350.5,"v":80},{"s":7,"t":351.5,"v":40},{"s":7,"t":353,"v":12},{"s":7,"t":358,"v":10},{"s":7,"t":365,"v":8.5},{"s":7,"t":380,"v":7.5},{"s":7,"t":400,"v":6}
],
"f":[
{"s":1,"t":0,"v":0},{"s":1,"t":15,"v":-0.5},{"s":1,"t":30,"v":0},{"s":1,"t":45,"v":1},{"s":1,"t":48,"v":1.5},{"s":1,"t":50,"v":0},{"s":1,"t":52,"v":-2},{"s":1,"t":56,"v":0},{"s":1,"t":62,"v":2.5},{"s":1,"t":75,"v":5.5},{"s":1,"t":90,"v":6.5},{"s":1,"t":100,"v":6},{"s":1,"t":125,"v":4.5},{"s":1,"t":150,"v":3.5},{"s":1,"t":175,"v":3},{"s":1,"t":200,"v":2},{"s":1,"t":210,"v":1},{"s":1,"t":225,"v":2},{"s":1,"t":250,"v":2.5},{"s":1,"t":275,"v":3.5},{"s":1,"t":300,"v":4.5},{"s":1,"t":325,"v":5},{"s":1,"t":345,"v":5.5},{"s":1,"t":349,"v":6},{"s":1,"t":351,"v":8},{"s":1,"t":353,"v":14},{"s":1,"t":356,"v":9},{"s":1,"t":362,"v":7},{"s":1,"t":380,"v":3.5},{"s":1,"t":400,"v":2.5},
{"s":2,"t":0,"v":-0.5},{"s":2,"t":15,"v":0},{"s":2,"t":30,"v":0},{"s":2,"t":45,"v":0.5},{"s":2,"t":48,"v":1},{"s":2,"t":50,"v":0},{"s":2,"t":52,"v":-3},{"s":2,"t":56,"v":0},{"s":2,"t":62,"v":3},{"s":2,"t":75,"v":6},{"s":2,"t":85,"v":7.5},{"s":2,"t":100,"v":7},{"s":2,"t":125,"v":5.5},{"s":2,"t":150,"v":5},{"s":2,"t":165,"v":5.5},{"s":2,"t":175,"v":4.5},{"s":2,"t":200,"v":4.5},{"s":2,"t":225,"v":4},{"s":2,"t":250,"v":4},{"s":2,"t":275,"v":5},{"s":2,"t":300,"v":5.5},{"s":2,"t":325,"v":5.5},{"s":2,"t":345,"v":6},{"s":2,"t":349,"v":6.5},{"s":2,"t":351,"v":5},{"s":2,"t":356,"v":4.5},{"s":2,"t":365,"v":4},{"s":2,"t":380,"v":3},{"s":2,"t":400,"v":2},
{"s":3,"t":0,"v":0},{"s":3,"t":15,"v":0.3},{"s":3,"t":30,"v":0.5},{"s":3,"t":45,"v":1.5},{"s":3,"t":48,"v":1},{"s":3,"t":50,"v":0},{"s":3,"t":53,"v":1},{"s":3,"t":58,"v":4.5},{"s":3,"t":65,"v":7},{"s":3,"t":75,"v":9.5},{"s":3,"t":85,"v":8.5},{"s":3,"t":100,"v":7},{"s":3,"t":125,"v":5.5},{"s":3,"t":150,"v":4.5},{"s":3,"t":175,"v":4.5},{"s":3,"t":200,"v":4},{"s":3,"t":225,"v":4},{"s":3,"t":250,"v":4.5},{"s":3,"t":275,"v":5.5},{"s":3,"t":300,"v":6.5},{"s":3,"t":325,"v":7.5},{"s":3,"t":345,"v":8.5},{"s":3,"t":349,"v":9.5},{"s":3,"t":351,"v":10},{"s":3,"t":353,"v":7},{"s":3,"t":358,"v":5},{"s":3,"t":365,"v":4.5},{"s":3,"t":380,"v":3},{"s":3,"t":400,"v":3},
{"s":4,"t":0,"v":0.5},{"s":4,"t":15,"v":0},{"s":4,"t":30,"v":0.5},{"s":4,"t":45,"v":2},{"s":4,"t":48,"v":4},{"s":4,"t":50,"v":2},{"s":4,"t":53,"v":4},{"s":4,"t":58,"v":10},{"s":4,"t":65,"v":12.5},{"s":4,"t":75,"v":13},{"s":4,"t":85,"v":11.5},{"s":4,"t":100,"v":10},{"s":4,"t":125,"v":9},{"s":4,"t":150,"v":8.5},{"s":4,"t":175,"v":8},{"s":4,"t":200,"v":7.5},{"s":4,"t":225,"v":7.5},{"s":4,"t":250,"v":8},{"s":4,"t":275,"v":9},{"s":4,"t":300,"v":10},{"s":4,"t":325,"v":10.5},{"s":4,"t":345,"v":11},{"s":4,"t":349,"v":12},{"s":4,"t":350,"v":5},{"s":4,"t":352,"v":8},{"s":4,"t":356,"v":5},{"s":4,"t":365,"v":4},{"s":4,"t":380,"v":3},{"s":4,"t":400,"v":2.5},
{"s":5,"t":0,"v":0},{"s":5,"t":15,"v":0.5},{"s":5,"t":30,"v":0.5},{"s":5,"t":45,"v":2},{"s":5,"t":48,"v":2},{"s":5,"t":50,"v":1},{"s":5,"t":52,"v":10},{"s":5,"t":55,"v":13},{"s":5,"t":65,"v":12.5},{"s":5,"t":80,"v":13},{"s":5,"t":100,"v":12},{"s":5,"t":125,"v":11.5},{"s":5,"t":150,"v":11.5},{"s":5,"t":175,"v":12},{"s":5,"t":200,"v":12},{"s":5,"t":225,"v":12},{"s":5,"t":250,"v":12.5},{"s":5,"t":275,"v":13.5},{"s":5,"t":300,"v":14.5},{"s":5,"t":310,"v":16},{"s":5,"t":325,"v":15},{"s":5,"t":345,"v":16},{"s":5,"t":349,"v":16},{"s":5,"t":351,"v":10},{"s":5,"t":355,"v":6},{"s":5,"t":365,"v":4.5},{"s":5,"t":380,"v":3.5},{"s":5,"t":400,"v":3},
{"s":6,"t":0,"v":0},{"s":6,"t":15,"v":-0.3},{"s":6,"t":25,"v":0},{"s":6,"t":26,"v":2},{"s":6,"t":35,"v":2.5},{"s":6,"t":45,"v":2},{"s":6,"t":48,"v":2},{"s":6,"t":49.5,"v":1},{"s":6,"t":50,"v":-20},{"s":6,"t":51,"v":5},{"s":6,"t":53,"v":16},{"s":6,"t":56,"v":17.5},{"s":6,"t":65,"v":16.5},{"s":6,"t":80,"v":16},{"s":6,"t":100,"v":15.5},{"s":6,"t":125,"v":15.5},{"s":6,"t":150,"v":15.5},{"s":6,"t":175,"v":15.5},{"s":6,"t":200,"v":15.5},{"s":6,"t":225,"v":16},{"s":6,"t":250,"v":17},{"s":6,"t":275,"v":19.5},{"s":6,"t":300,"v":21.5},{"s":6,"t":325,"v":23},{"s":6,"t":345,"v":24},{"s":6,"t":349,"v":24.5},{"s":6,"t":349.8,"v":47},{"s":6,"t":350.6,"v":25},{"s":6,"t":352,"v":12},{"s":6,"t":356,"v":7},{"s":6,"t":365,"v":4.5},{"s":6,"t":380,"v":3},{"s":6,"t":400,"v":3},
{"s":7,"t":0,"v":0},{"s":7,"t":15,"v":-0.5},{"s":7,"t":25,"v":0},{"s":7,"t":26,"v":2.5},{"s":7,"t":35,"v":2},{"s":7,"t":45,"v":2.5},{"s":7,"t":48,"v":3},{"s":7,"t":49.5,"v":0},{"s":7,"t":51,"v":12},{"s":7,"t":53,"v":16},{"s":7,"t":56,"v":18},{"s":7,"t":62,"v":17.5},{"s":7,"t":75,"v":16.5},{"s":7,"t":90,"v":16},{"s":7,"t":100,"v":15.5},{"s":7,"t":125,"v":16},{"s":7,"t":150,"v":16.5},{"s":7,"t":175,"v":17.5},{"s":7,"t":200,"v":18.5},{"s":7,"t":210,"v":19.5},{"s":7,"t":225,"v":19},{"s":7,"t":250,"v":20.5},{"s":7,"t":275,"v":22},{"s":7,"t":300,"v":23.5},{"s":7,"t":325,"v":25},{"s":7,"t":345,"v":25.5},{"s":7,"t":349,"v":26},{"s":7,"t":350,"v":27},{"s":7,"t":351,"v":20},{"s":7,"t":353,"v":10},{"s":7,"t":357,"v":6},{"s":7,"t":365,"v":4},{"s":7,"t":380,"v":3.5},{"s":7,"t":400,"v":3}
],
"g":[
{"s":1,"t":0,"v":0},{"s":1,"t":15,"v":0.5},{"s":1,"t":30,"v":0.5},{"s":1,"t":45,"v":1},{"s":1,"t":50,"v":1},{"s":1,"t":55,"v":1.5},{"s":1,"t":70,"v":2},{"s":1,"t":85,"v":3},{"s":1,"t":100,"v":3.5},{"s":1,"t":125,"v":4},{"s":1,"t":150,"v":4.5},{"s":1,"t":175,"v":4.5},{"s":1,"t":200,"v":5},{"s":1,"t":225,"v":5.5},{"s":1,"t":250,"v":6.5},{"s":1,"t":265,"v":7.5},{"s":1,"t":275,"v":8.5},{"s":1,"t":300,"v":9},{"s":1,"t":325,"v":10.5},{"s":1,"t":345,"v":10.5},{"s":1,"t":349,"v":10},{"s":1,"t":360,"v":10},{"s":1,"t":375,"v":9},{"s":1,"t":390,"v":8},{"s":1,"t":400,"v":7.5},
{"s":2,"t":0,"v":0},{"s":2,"t":15,"v":0.5},{"s":2,"t":30,"v":0.5},{"s":2,"t":45,"v":1},{"s":2,"t":49,"v":0},{"s":2,"t":51,"v":-4},{"s":2,"t":53,"v":1},{"s":2,"t":65,"v":1},{"s":2,"t":85,"v":2},{"s":2,"t":100,"v":1.5},{"s":2,"t":125,"v":2.5},{"s":2,"t":150,"v":3},{"s":2,"t":175,"v":3},{"s":2,"t":200,"v":3.5},{"s":2,"t":225,"v":4},{"s":2,"t":250,"v":4.5},{"s":2,"t":275,"v":5.5},{"s":2,"t":300,"v":6},{"s":2,"t":325,"v":7},{"s":2,"t":345,"v":8},{"s":2,"t":349,"v":10},{"s":2,"t":352,"v":6},{"s":2,"t":356,"v":9},{"s":2,"t":365,"v":7},{"s":2,"t":380,"v":5},{"s":2,"t":400,"v":3},
{"s":3,"t":0,"v":0},{"s":3,"t":15,"v":0.5},{"s":3,"t":30,"v":1.5},{"s":3,"t":35,"v":3},{"s":3,"t":45,"v":2},{"s":3,"t":49,"v":2},{"s":3,"t":52,"v":3},{"s":3,"t":56,"v":3.5},{"s":3,"t":65,"v":5.5},{"s":3,"t":70,"v":6.5},{"s":3,"t":75,"v":5.5},{"s":3,"t":85,"v":5.5},{"s":3,"t":100,"v":4.5},{"s":3,"t":125,"v":5},{"s":3,"t":150,"v":4.5},{"s":3,"t":175,"v":4.5},{"s":3,"t":200,"v":4},{"s":3,"t":225,"v":4},{"s":3,"t":250,"v":5},{"s":3,"t":275,"v":5.5},{"s":3,"t":300,"v":6},{"s":3,"t":325,"v":7},{"s":3,"t":345,"v":8.5},{"s":3,"t":349,"v":9},{"s":3,"t":352,"v":5},{"s":3,"t":356,"v":10},{"s":3,"t":365,"v":8},{"s":3,"t":380,"v":6},{"s":3,"t":400,"v":4},
{"s":4,"t":0,"v":0},{"s":4,"t":15,"v":-0.5},{"s":4,"t":20,"v":-1.5},{"s":4,"t":30,"v":0.5},{"s":4,"t":45,"v":1},{"s":4,"t":49,"v":1.5},{"s":4,"t":55,"v":3},{"s":4,"t":70,"v":3.5},{"s":4,"t":100,"v":4.5},{"s":4,"t":125,"v":5},{"s":4,"t":150,"v":4.5},{"s":4,"t":175,"v":4},{"s":4,"t":200,"v":4},{"s":4,"t":225,"v":4},{"s":4,"t":250,"v":4.5},{"s":4,"t":275,"v":5},{"s":4,"t":300,"v":6},{"s":4,"t":325,"v":7.5},{"s":4,"t":345,"v":8},{"s":4,"t":349,"v":7},{"s":4,"t":355,"v":5},{"s":4,"t":357,"v":0},{"s":4,"t":359,"v":7},{"s":4,"t":365,"v":7},{"s":4,"t":380,"v":5},{"s":4,"t":400,"v":3},
{"s":5,"t":0,"v":0},{"s":5,"t":15,"v":0.5},{"s":5,"t":30,"v":0.5},{"s":5,"t":45,"v":1},{"s":5,"t":49,"v":1.5},{"s":5,"t":52,"v":1},{"s":5,"t":55,"v":-2},{"s":5,"t":60,"v":-3},{"s":5,"t":65,"v":-6},{"s":5,"t":70,"v":-2},{"s":5,"t":80,"v":0},{"s":5,"t":100,"v":0},{"s":5,"t":125,"v":1},{"s":5,"t":150,"v":2},{"s":5,"t":175,"v":2.5},{"s":5,"t":200,"v":2.5},{"s":5,"t":225,"v":3},{"s":5,"t":250,"v":4},{"s":5,"t":275,"v":5},{"s":5,"t":300,"v":6},{"s":5,"t":325,"v":7},{"s":5,"t":345,"v":7.5},{"s":5,"t":349,"v":7},{"s":5,"t":355,"v":8},{"s":5,"t":375,"v":6},{"s":5,"t":400,"v":3.5},
{"s":6,"t":0,"v":0.5},{"s":6,"t":15,"v":0},{"s":6,"t":30,"v":1},{"s":6,"t":45,"v":1.5},{"s":6,"t":49,"v":3},{"s":6,"t":50,"v":5},{"s":6,"t":51,"v":60},{"s":6,"t":51.8,"v":10},{"s":6,"t":53,"v":0},{"s":6,"t":56,"v":-7},{"s":6,"t":60,"v":-6},{"s":6,"t":65,"v":-1},{"s":6,"t":75,"v":1},{"s":6,"t":100,"v":2},{"s":6,"t":125,"v":2.5},{"s":6,"t":150,"v":1.5},{"s":6,"t":175,"v":1},{"s":6,"t":200,"v":1},{"s":6,"t":225,"v":1.5},{"s":6,"t":250,"v":2.5},{"s":6,"t":275,"v":3.5},{"s":6,"t":300,"v":5},{"s":6,"t":318,"v":5.5},{"s":6,"t":321,"v":-12},{"s":6,"t":324,"v":4},{"s":6,"t":330,"v":7},{"s":6,"t":332,"v":10},{"s":6,"t":335,"v":6},{"s":6,"t":345,"v":6},{"s":6,"t":349,"v":6},{"s":6,"t":350,"v":-10},{"s":6,"t":352,"v":6},{"s":6,"t":360,"v":3.5},{"s":6,"t":380,"v":2},{"s":6,"t":400,"v":1},
{"s":7,"t":0,"v":0},{"s":7,"t":15,"v":0.5},{"s":7,"t":25,"v":1.5},{"s":7,"t":35,"v":1},{"s":7,"t":45,"v":2},{"s":7,"t":49,"v":3},{"s":7,"t":50,"v":20},{"s":7,"t":50.6,"v":79},{"s":7,"t":51.3,"v":20},{"s":7,"t":52,"v":4},{"s":7,"t":56,"v":2},{"s":7,"t":70,"v":1.5},{"s":7,"t":85,"v":2.5},{"s":7,"t":100,"v":2},{"s":7,"t":125,"v":2},{"s":7,"t":150,"v":1.5},{"s":7,"t":175,"v":1.5},{"s":7,"t":200,"v":1},{"s":7,"t":225,"v":1.5},{"s":7,"t":250,"v":2.5},{"s":7,"t":275,"v":4},{"s":7,"t":300,"v":5},{"s":7,"t":325,"v":5.5},{"s":7,"t":345,"v":6},{"s":7,"t":349,"v":5},{"s":7,"t":350,"v":-20},{"s":7,"t":351,"v":5},{"s":7,"t":352,"v":-20},{"s":7,"t":353,"v":6},{"s":7,"t":360,"v":6},{"s":7,"t":375,"v":5},{"s":7,"t":400,"v":3},
{"s":8,"t":0,"v":0},{"s":8,"t":15,"v":0.3},{"s":8,"t":30,"v":0.5},{"s":8,"t":45,"v":1},{"s":8,"t":49,"v":2},{"s":8,"t":50,"v":-20},{"s":8,"t":51,"v":-10},{"s":8,"t":52,"v":0},{"s":8,"t":56,"v":2},{"s":8,"t":70,"v":3},{"s":8,"t":85,"v":4},{"s":8,"t":100,"v":4},{"s":8,"t":125,"v":4.5},{"s":8,"t":150,"v":6},{"s":8,"t":165,"v":7},{"s":8,"t":175,"v":7},{"s":8,"t":200,"v":8},{"s":8,"t":225,"v":9},{"s":8,"t":250,"v":10.5},{"s":8,"t":275,"v":12.5},{"s":8,"t":300,"v":14},{"s":8,"t":310,"v":15.5},{"s":8,"t":325,"v":15},{"s":8,"t":345,"v":15},{"s":8,"t":349,"v":15.5},{"s":8,"t":350.5,"v":64},{"s":8,"t":352,"v":25},{"s":8,"t":355,"v":15},{"s":8,"t":360,"v":12},{"s":8,"t":375,"v":10},{"s":8,"t":390,"v":8},{"s":8,"t":400,"v":7}
],
"h":[
{"s":1,"t":0,"v":0},{"s":1,"t":15,"v":0.5},{"s":1,"t":30,"v":1},{"s":1,"t":40,"v":2.5},{"s":1,"t":45,"v":2},{"s":1,"t":49,"v":1.5},{"s":1,"t":51,"v":9},{"s":1,"t":53,"v":6},{"s":1,"t":56,"v":3},{"s":1,"t":60,"v":2.5},{"s":1,"t":70,"v":3},{"s":1,"t":85,"v":4},{"s":1,"t":100,"v":4},{"s":1,"t":125,"v":4.5},{"s":1,"t":150,"v":4.5},{"s":1,"t":175,"v":5},{"s":1,"t":200,"v":5.5},{"s":1,"t":225,"v":6.5},{"s":1,"t":250,"v":7.5},{"s":1,"t":275,"v":9},{"s":1,"t":300,"v":9.5},{"s":1,"t":325,"v":10},{"s":1,"t":345,"v":11},{"s":1,"t":349,"v":11.5},{"s":1,"t":352,"v":12},{"s":1,"t":360,"v":12},{"s":1,"t":380,"v":10},{"s":1,"t":400,"v":8},
{"s":2,"t":0,"v":0.5},{"s":2,"t":15,"v":0},{"s":2,"t":30,"v":0.5},{"s":2,"t":45,"v":1.5},{"s":2,"t":49,"v":1},{"s":2,"t":51,"v":0},{"s":2,"t":53,"v":-4},{"s":2,"t":56,"v":-3},{"s":2,"t":62,"v":2},{"s":2,"t":70,"v":4.5},{"s":2,"t":80,"v":6},{"s":2,"t":100,"v":5},{"s":2,"t":125,"v":4.5},{"s":2,"t":150,"v":5},{"s":2,"t":175,"v":5.5},{"s":2,"t":200,"v":5.5},{"s":2,"t":225,"v":6.5},{"s":2,"t":250,"v":7.5},{"s":2,"t":275,"v":8.5},{"s":2,"t":300,"v":9.5},{"s":2,"t":325,"v":10.5},{"s":2,"t":345,"v":11},{"s":2,"t":349,"v":11.5},{"s":2,"t":352,"v":12},{"s":2,"t":360,"v":10},{"s":2,"t":380,"v":8},{"s":2,"t":400,"v":6},
{"s":3,"t":0,"v":0},{"s":3,"t":15,"v":0.5},{"s":3,"t":30,"v":0.5},{"s":3,"t":45,"v":1.5},{"s":3,"t":49,"v":1},{"s":3,"t":51,"v":0},{"s":3,"t":53,"v":-3},{"s":3,"t":58,"v":-2},{"s":3,"t":65,"v":0},{"s":3,"t":75,"v":0.5},{"s":3,"t":90,"v":1.5},{"s":3,"t":100,"v":2},{"s":3,"t":125,"v":3},{"s":3,"t":150,"v":4},{"s":3,"t":175,"v":5},{"s":3,"t":200,"v":5.5},{"s":3,"t":225,"v":6.5},{"s":3,"t":250,"v":7.5},{"s":3,"t":275,"v":9},{"s":3,"t":300,"v":10},{"s":3,"t":325,"v":11},{"s":3,"t":345,"v":12},{"s":3,"t":349,"v":12.5},{"s":3,"t":352,"v":14.5},{"s":3,"t":360,"v":13},{"s":3,"t":380,"v":10},{"s":3,"t":400,"v":7.5},
{"s":4,"t":0,"v":0},{"s":4,"t":15,"v":-1},{"s":4,"t":30,"v":0},{"s":4,"t":45,"v":1.5},{"s":4,"t":49,"v":1},{"s":4,"t":51,"v":0},{"s":4,"t":53,"v":-5},{"s":4,"t":55,"v":-12},{"s":4,"t":57,"v":-11},{"s":4,"t":60,"v":-6},{"s":4,"t":63,"v":-2},{"s":4,"t":70,"v":1.5},{"s":4,"t":85,"v":3.5},{"s":4,"t":100,"v":4.5},{"s":4,"t":125,"v":5},{"s":4,"t":150,"v":5.5},{"s":4,"t":175,"v":6},{"s":4,"t":200,"v":6.5},{"s":4,"t":225,"v":7},{"s":4,"t":250,"v":8},{"s":4,"t":275,"v":10},{"s":4,"t":300,"v":11.5},{"s":4,"t":325,"v":12.5},{"s":4,"t":345,"v":13},{"s":4,"t":349,"v":13},{"s":4,"t":352,"v":10},{"s":4,"t":360,"v":9},{"s":4,"t":380,"v":8},{"s":4,"t":400,"v":7.5},
{"s":5,"t":0,"v":0},{"s":5,"t":15,"v":0},{"s":5,"t":30,"v":0.5},{"s":5,"t":45,"v":2},{"s":5,"t":49,"v":2.5},{"s":5,"t":51,"v":3},{"s":5,"t":53,"v":5},{"s":5,"t":58,"v":4},{"s":5,"t":70,"v":5},{"s":5,"t":100,"v":5.5},{"s":5,"t":125,"v":6},{"s":5,"t":150,"v":6},{"s":5,"t":175,"v":6.5},{"s":5,"t":200,"v":6.5},{"s":5,"t":225,"v":7},{"s":5,"t":250,"v":8},{"s":5,"t":275,"v":9.5},{"s":5,"t":300,"v":11.5},{"s":5,"t":325,"v":12.5},{"s":5,"t":345,"v":13},{"s":5,"t":349,"v":13.5},{"s":5,"t":352,"v":10},{"s":5,"t":360,"v":7},{"s":5,"t":380,"v":5},{"s":5,"t":400,"v":4},
{"s":6,"t":0,"v":0},{"s":6,"t":15,"v":0.5},{"s":6,"t":30,"v":1},{"s":6,"t":45,"v":2.5},{"s":6,"t":48,"v":3.5},{"s":6,"t":49,"v":-5},{"s":6,"t":50,"v":12},{"s":6,"t":51,"v":9},{"s":6,"t":53,"v":8},{"s":6,"t":56,"v":7.5},{"s":6,"t":65,"v":7},{"s":6,"t":80,"v":7},{"s":6,"t":100,"v":7.5},{"s":6,"t":125,"v":8},{"s":6,"t":150,"v":8.5},{"s":6,"t":175,"v":9},{"s":6,"t":200,"v":9.5},{"s":6,"t":225,"v":10.5},{"s":6,"t":250,"v":11.5},{"s":6,"t":275,"v":13},{"s":6,"t":300,"v":14},{"s":6,"t":325,"v":15},{"s":6,"t":345,"v":15.5},{"s":6,"t":348,"v":16},{"s":6,"t":349,"v":21},{"s":6,"t":350.5,"v":8},{"s":6,"t":355,"v":7},{"s":6,"t":365,"v":6},{"s":6,"t":380,"v":4.5},{"s":6,"t":400,"v":3.5},
{"s":7,"t":0,"v":0.5},{"s":7,"t":15,"v":0},{"s":7,"t":30,"v":0.5},{"s":7,"t":45,"v":0},{"s":7,"t":48,"v":0},{"s":7,"t":49,"v":15},{"s":7,"t":50,"v":0},{"s":7,"t":51,"v":3},{"s":7,"t":53,"v":8},{"s":7,"t":56,"v":12},{"s":7,"t":60,"v":15},{"s":7,"t":65,"v":16.5},{"s":7,"t":75,"v":16.5},{"s":7,"t":85,"v":15.5},{"s":7,"t":100,"v":14.5},{"s":7,"t":115,"v":13},{"s":7,"t":125,"v":12.5},{"s":7,"t":150,"v":12},{"s":7,"t":175,"v":11.5},{"s":7,"t":200,"v":12},{"s":7,"t":225,"v":13},{"s":7,"t":250,"v":13.5},{"s":7,"t":275,"v":15},{"s":7,"t":300,"v":17},{"s":7,"t":325,"v":18.5},{"s":7,"t":345,"v":19.5},{"s":7,"t":348,"v":20},{"s":7,"t":348.6,"v":0},{"s":7,"t":349.3,"v":22},{"s":7,"t":350.5,"v":5},{"s":7,"t":353,"v":4},{"s":7,"t":360,"v":3},{"s":7,"t":375,"v":2},{"s":7,"t":385,"v":1},{"s":7,"t":400,"v":2.5},
{"s":8,"t":0,"v":0},{"s":8,"t":15,"v":0.5},{"s":8,"t":30,"v":1},{"s":8,"t":40,"v":2.5},{"s":8,"t":45,"v":2.5},{"s":8,"t":49,"v":3},{"s":8,"t":50,"v":2},{"s":8,"t":51,"v":20},{"s":8,"t":52,"v":41},{"s":8,"t":53,"v":25},{"s":8,"t":55,"v":17},{"s":8,"t":60,"v":16.5},{"s":8,"t":70,"v":17.5},{"s":8,"t":85,"v":18.5},{"s":8,"t":100,"v":17},{"s":8,"t":125,"v":16.5},{"s":8,"t":150,"v":16.5},{"s":8,"t":165,"v":16},{"s":8,"t":175,"v":17},{"s":8,"t":200,"v":17.5},{"s":8,"t":225,"v":17.5},{"s":8,"t":240,"v":18.5},{"s":8,"t":250,"v":18},{"s":8,"t":275,"v":18.5},{"s":8,"t":300,"v":19.5},{"s":8,"t":310,"v":20.5},{"s":8,"t":325,"v":21.5},{"s":8,"t":330,"v":22},{"s":8,"t":334,"v":19.5},{"s":8,"t":345,"v":19.5},{"s":8,"t":349,"v":19},{"s":8,"t":351,"v":18},{"s":8,"t":352,"v":-5},{"s":8,"t":353,"v":-12},{"s":8,"t":355,"v":10},{"s":8,"t":360,"v":8},{"s":8,"t":375,"v":6.5},{"s":8,"t":390,"v":6},{"s":8,"t":400,"v":6}
]
},
"concat":[
{"title":"ABDA (ATP)","data":{"name":"a"},"width":473,"height":339,"mark":{"type":"line","strokeWidth":1,"clip":true},
 "encoding":{"x":{"field":"t","type":"quantitative","scale":{"domain":[0,400],"nice":false},"axis":{"values":[0,50,100,150,200,250,300,350,400],"offset":-42.4,"title":"Time / s","titleY":61.4}},
 "y":{"field":"v","type":"quantitative","scale":{"domain":[-20,140],"nice":false,"zero":false},"axis":{"values":[-20,0,20,40,60,80,100,120,140],"title":"Response units"}},
 "color":{"field":"s","type":"nominal","scale":{"domain":[1,2,3,4,5,6,7,8],"range":["#7f2683","#2244ff","#1a961a","#a0ec1e","#d6cf18","#ff8020","#ff3010","#ff44ff"]},"legend":null}}},
{"title":{"text":"ABDA (AMP)","dx":-61},"data":{"name":"b"},"width":473,"height":339,"mark":{"type":"line","strokeWidth":1,"clip":true},
 "encoding":{"x":{"field":"t","type":"quantitative","scale":{"domain":[0,400],"nice":false},"axis":{"values":[0,50,100,150,200,250,300,350,400],"offset":-37.7,"title":"Time / s","titleY":56.7}},
 "y":{"field":"v","type":"quantitative","scale":{"domain":[-10,80],"nice":false,"zero":false},"axis":{"values":[-10,0,10,20,30,40,50,60,70,80],"title":"Response units"}},
 "color":{"field":"s","type":"nominal","scale":{"domain":[1,2,3,4,5,6,7,8],"range":["#7f2683","#2244ff","#1a961a","#a0ec1e","#d6cf18","#ff8020","#ff3010","#ff44ff"]},"legend":null}}},
{"title":"ABDA 9A (ATP)","data":{"name":"c"},"width":473,"height":339,"mark":{"type":"line","strokeWidth":1,"clip":true},
 "encoding":{"x":{"field":"t","type":"quantitative","scale":{"domain":[0,400],"nice":false},"axis":{"values":[0,50,100,150,200,250,300,350,400],"offset":-56.5,"title":"Time / s","titleY":75.5}},
 "y":{"field":"v","type":"quantitative","scale":{"domain":[-20,100],"nice":false,"zero":false},"axis":{"values":[-20,0,20,40,60,80,100],"title":"Response units"}},
 "color":{"field":"s","type":"nominal","scale":{"domain":[1,2,3,4,5,6,7,8],"range":["#7f2683","#2244ff","#1a961a","#a0ec1e","#d6cf18","#ff8020","#ff3010","#ff44ff"]},"legend":null}}},
{"title":{"text":"ABDA 9A (AMP)","dx":-61},"data":{"name":"d"},"width":473,"height":339,"mark":{"type":"line","strokeWidth":1,"clip":true},
 "encoding":{"x":{"field":"t","type":"quantitative","scale":{"domain":[0,400],"nice":false},"axis":{"values":[0,50,100,150,200,250,300,350,400],"offset":-67.8,"title":"Time / s","titleY":86.8}},
 "y":{"field":"v","type":"quantitative","scale":{"domain":[-20,80],"nice":false,"zero":false},"axis":{"values":[-20,0,20,40,60,80],"title":"Response units"}},
 "color":{"field":"s","type":"nominal","scale":{"domain":[1,2,3,4,5,6,7,8],"range":["#7f2683","#2244ff","#1a961a","#a0ec1e","#d6cf18","#ff8020","#ff3010","#ff44ff"]},"legend":null}}},
{"title":"ABDA 22A (ATP)","data":{"name":"e"},"width":473,"height":339,"mark":{"type":"line","strokeWidth":1,"clip":true},
 "encoding":{"x":{"field":"t","type":"quantitative","scale":{"domain":[0,400],"nice":false},"axis":{"values":[0,50,100,150,200,250,300,350,400],"offset":-67.8,"title":"Time / s","titleY":86.8}},
 "y":{"field":"v","type":"quantitative","scale":{"domain":[-20,80],"nice":false,"zero":false},"axis":{"values":[-20,0,20,40,60,80],"title":"Response units"}},
 "color":{"field":"s","type":"nominal","scale":{"domain":[1,2,3,4,5,6,7,8],"range":["#7f2683","#2244ff","#1a961a","#a0ec1e","#d6cf18","#ff8020","#ff3010","#ff44ff"]},"legend":null}}},
{"title":{"text":"ABDA 22A (AMP)","dx":-61},"data":{"name":"f"},"width":473,"height":339,"mark":{"type":"line","strokeWidth":1,"clip":true},
 "encoding":{"x":{"field":"t","type":"quantitative","scale":{"domain":[0,400],"nice":false},"axis":{"values":[0,50,100,150,200,250,300,350,400],"offset":-84.75,"title":"Time / s","titleY":103.75}},
 "y":{"field":"v","type":"quantitative","scale":{"domain":[-20,60],"nice":false,"zero":false},"axis":{"values":[-20,0,20,40,60],"title":"Response units"}},
 "color":{"field":"s","type":"nominal","scale":{"domain":[1,2,3,4,5,6,7,8],"range":["#7f2683","#2244ff","#1a961a","#a0ec1e","#d6cf18","#ff8020","#ff3010","#ff44ff"]},"legend":null}}},
{"title":"ABDA 9A22A (ATP)","data":{"name":"g"},"width":473,"height":339,"mark":{"type":"line","strokeWidth":1,"clip":true},
 "encoding":{"x":{"field":"t","type":"quantitative","scale":{"domain":[0,400],"nice":false},"axis":{"values":[0,50,100,150,200,250,300,350,400],"offset":-67.8,"title":"Time / s","titleY":86.8}},
 "y":{"field":"v","type":"quantitative","scale":{"domain":[-20,80],"nice":false,"zero":false},"axis":{"values":[-20,0,20,40,60,80],"title":"Response units"}},
 "color":{"field":"s","type":"nominal","scale":{"domain":[1,2,3,4,5,6,7,8],"range":["#7f2683","#2244ff","#1a961a","#a0ec1e","#d6cf18","#ff8020","#ff3010","#ff44ff"]},"legend":null}}},
{"title":{"text":"ABDA 9A22A (AMP)","dx":-61},"data":{"name":"h"},"width":473,"height":339,"mark":{"type":"line","strokeWidth":1,"clip":true},
 "encoding":{"x":{"field":"t","type":"quantitative","scale":{"domain":[0,400],"nice":false},"axis":{"values":[0,50,100,150,200,250,300,350,400],"offset":-67.8,"title":"Time / s","titleY":86.8}},
 "y":{"field":"v","type":"quantitative","scale":{"domain":[-20,80],"nice":false,"zero":false},"axis":{"values":[-20,0,20,40,60,80],"title":"Response units"}},
 "color":{"field":"s","type":"nominal","scale":{"domain":[1,2,3,4,5,6,7,8],"range":["#7f2683","#2244ff","#1a961a","#a0ec1e","#d6cf18","#ff8020","#ff3010","#ff44ff"]},"legend":null}}}
]
}
